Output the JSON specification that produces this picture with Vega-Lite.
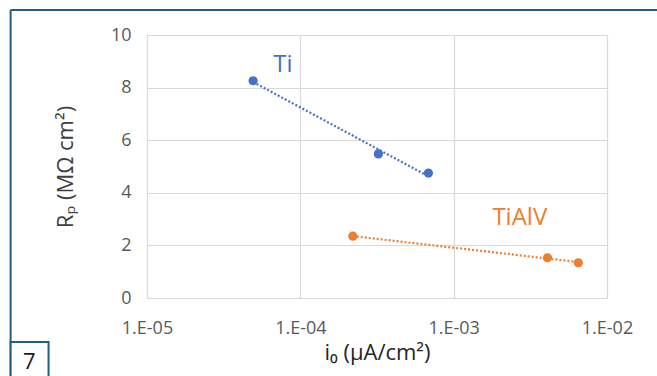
{
  "$schema": "https://vega.github.io/schema/vega-lite/v6.json",
  "width": 460,
  "height": 263,
  "autosize": {"type": "none"},
  "padding": {"left": 147, "top": 35, "right": 50, "bottom": 78},
  "background": "white",
  "config": {"view": {"stroke": null}, "font": "Open Sans"},
  "data": {
    "values": [
      {"series": "Ti", "i0": 0.0000492, "Rp": 8.26},
      {"series": "Ti", "i0": 0.000323, "Rp": 5.48},
      {"series": "Ti", "i0": 0.000684, "Rp": 4.75},
      {"series": "TiAlV", "i0": 0.00022, "Rp": 2.35},
      {"series": "TiAlV", "i0": 0.00409, "Rp": 1.53},
      {"series": "TiAlV", "i0": 0.0065, "Rp": 1.34}
    ]
  },
  "layer": [
    {
      "transform": [{"regression": "Rp", "on": "i0", "method": "log", "groupby": ["series"]}],
      "mark": {"type": "line", "strokeDash": [2, 2], "strokeWidth": 2.2},
      "encoding": {
        "x": {
          "field": "i0", "type": "quantitative",
          "scale": {"type": "log", "domain": [0.00001, 0.01], "nice": false},
          "axis": {
            "values": [0.00001, 0.0001, 0.001, 0.01],
            "labelExpr": "'1.E-0' + (-round(log(datum.value)/LN10))",
            "grid": true, "gridColor": "#d9d9d9", "gridWidth": 1.2,
            "domain": false, "ticks": false,
            "labelPadding": 21, "labelFontSize": 18, "labelColor": "#595959",
            "labelFlush": false,
            "title": "i₀ (µA/cm²)", "titleFontSize": 22, "titleFontWeight": "normal",
            "titleColor": "#262626", "titlePadding": 5
          }
        },
        "y": {
          "field": "Rp", "type": "quantitative",
          "scale": {"domain": [0, 10], "nice": false},
          "axis": {
            "values": [0, 2, 4, 6, 8, 10],
            "grid": true, "gridColor": "#d9d9d9", "gridWidth": 1.2,
            "domain": false, "ticks": false,
            "labelPadding": 16, "labelFontSize": 18, "labelColor": "#595959",
            "labelFlush": false,
            "title": "Rₚ (MΩ cm²)", "titleFontSize": 22, "titleFontWeight": "normal",
            "titleColor": "#404040", "titlePadding": 33
          }
        },
        "color": {
          "field": "series", "type": "nominal",
          "scale": {"domain": ["Ti", "TiAlV"], "range": ["#4472C4", "#ED7D31"]},
          "legend": null
        }
      }
    },
    {
      "mark": {"type": "circle", "size": 85, "opacity": 1},
      "encoding": {
        "x": {"field": "i0", "type": "quantitative"},
        "y": {"field": "Rp", "type": "quantitative"},
        "color": {"field": "series", "type": "nominal", "legend": null}
      }
    },
    {
      "data": {"values": [{"label": "Ti", "i0": 0.000077, "Rp": 8.86}, {"label": "TiAlV", "i0": 0.0027, "Rp": 3.04}]},
      "mark": {"type": "text", "fontSize": 24, "align": "center", "baseline": "middle"},
      "encoding": {
        "x": {"field": "i0", "type": "quantitative"},
        "y": {"field": "Rp", "type": "quantitative"},
        "text": {"field": "label"},
        "color": {"field": "label", "type": "nominal", "legend": null}
      }
    },
    {
      "data": {"values": [{}]},
      "mark": {"type": "rule", "color": "#1f5f80", "strokeWidth": 2},
      "encoding": {
        "x": {"datum": 0.00000129, "type": "quantitative"},
        "x2": {"datum": 0.03},
        "y": {"datum": 10.95, "type": "quantitative"}
      }
    },
    {
      "data": {"values": [{}]},
      "mark": {"type": "rule", "color": "#1f5f80", "strokeWidth": 2},
      "encoding": {
        "x": {"datum": 0.00000129, "type": "quantitative"},
        "y": {"datum": 10.95, "type": "quantitative"},
        "y2": {"datum": -3.5}
      }
    },
    {
      "data": {"values": [{}]},
      "mark": {"type": "rect", "fill": "white", "stroke": "#1f5f80", "strokeWidth": 2},
      "encoding": {
        "x": {"datum": 0.00000129, "type": "quantitative"},
        "x2": {"datum": 0.00000228},
        "y": {"datum": -1.67, "type": "quantitative"},
        "y2": {"datum": -3.5}
      }
    },
    {
      "data": {"values": [{"label": "7"}]},
      "mark": {"type": "text", "fontSize": 22, "color": "#1a1a1a", "align": "center", "baseline": "middle"},
      "encoding": {
        "x": {"datum": 0.00000171, "type": "quantitative"},
        "y": {"datum": -2.43, "type": "quantitative"},
        "text": {"field": "label"}
      }
    }
  ]
}
